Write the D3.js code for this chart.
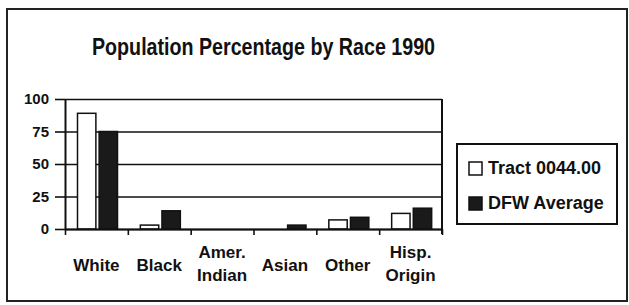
<!DOCTYPE html>
<html>
<head>
<meta charset="utf-8">
<script src="https://cdn.jsdelivr.net/npm/d3@7"></script>
<style>
  body { margin: 0; background: #fff; }
  svg { display: block; font-family: "Liberation Sans", Arial, sans-serif; }
  .axis path, .axis line { stroke: #111; }
  .grid line { stroke: #111; stroke-width: 1.6; }
  .grid path { display: none; }
</style>
</head>
<body>
<svg width="629" height="305"></svg>
<script>
var categories = [["White"], ["Black"], ["Amer.", "Indian"], ["Asian"], ["Other"], ["Hisp.", "Origin"]],
    series = ["Tract 0044.00", "DFW Average"],
    tract = [89, 3, 0, 0, 7, 12],
    dfw = [75, 14, 0, 3, 9, 16],
    yTicks = [0, 25, 50, 75, 100];

var svg = d3.select("svg"),
    margin = {top: 99, left: 65},
    width = 377,
    height = 130,
    g = svg.append("g").attr("transform", "translate(" + margin.left + "," + margin.top + ")");

var data = categories.map(function(c, i) {
  return {name: c.join(" "), lines: c, values: [tract[i], dfw[i]]};
});

// outer frame
svg.append("rect")
    .attr("x", 7).attr("y", 9)
    .attr("width", 620).attr("height", 292)
    .attr("fill", "none")
    .attr("stroke", "#222")
    .attr("stroke-width", 2);

svg.append("text")
    .attr("x", 263.5)
    .attr("y", 55)
    .attr("text-anchor", "middle")
    .style("font", "bold 24px 'Liberation Sans Narrow', 'Liberation Sans', sans-serif")
    .attr("textLength", 343)
    .attr("lengthAdjust", "spacingAndGlyphs")
    .attr("fill", "#111")
    .text("Population Percentage by Race 1990");

var x0 = d3.scaleBand().domain(data.map(function(d) { return d.name; })).range([0, width]),
    x1 = d3.scaleBand().domain(series).range([12.5, 52.5]).paddingInner(0.15),
    xb = d3.scaleLinear().domain([0, categories.length]).range([0, width]),
    y = d3.scaleLinear().domain([0, 100]).range([height, 0]),
    z = d3.scaleOrdinal().domain(series).range(["#fff", "#1a1a1a"]);

// grid lines
g.append("g")
    .attr("class", "grid")
    .call(d3.axisLeft(y).tickValues(yTicks).tickSize(-width).tickFormat(""));

// right border of plot
g.append("line")
    .attr("x1", width).attr("x2", width)
    .attr("y1", 0).attr("y2", height + 5)
    .attr("stroke", "#111").attr("stroke-width", 2);

// bars
var group = g.selectAll(".cat")
  .data(data)
  .enter().append("g")
    .attr("class", "cat")
    .attr("transform", function(d) { return "translate(" + x0(d.name) + ",0)"; });

group.selectAll("rect")
  .data(function(d) { return d.values.map(function(v, i) { return {key: series[i], value: v}; }); })
  .enter().append("rect")
    .filter(function(d) { return d.value > 0; })
    .attr("x", function(d) { return x1(d.key); })
    .attr("y", function(d) { return y(d.value); })
    .attr("width", x1.bandwidth())
    .attr("height", function(d) { return y(0) - y(d.value); })
    .attr("fill", function(d) { return z(d.key); })
    .attr("stroke", "#111")
    .attr("stroke-width", 1.5);

// y axis
var yAxis = g.append("g")
    .attr("class", "axis")
    .call(d3.axisLeft(y).tickValues(yTicks).tickSize(10).tickSizeOuter(0).tickPadding(6));
yAxis.select(".domain").attr("stroke-width", 2);
yAxis.selectAll("line").attr("stroke-width", 1.6);
yAxis.selectAll("text")
    .style("font", "bold 15px 'Liberation Sans', sans-serif")
    .attr("fill", "#111");

// x axis ticks at category boundaries
var xAxis = g.append("g")
    .attr("class", "axis")
    .attr("transform", "translate(0," + height + ")")
    .call(d3.axisBottom(xb).ticks(categories.length).tickSize(6).tickSizeOuter(0).tickFormat(""));
xAxis.select(".domain").attr("stroke-width", 2);
xAxis.selectAll("line").attr("stroke-width", 1.6);

// category labels
var label = g.selectAll(".xlabel")
  .data(data)
  .enter().append("text")
    .attr("class", "xlabel")
    .attr("text-anchor", "middle")
    .attr("transform", function(d) {
      var ty = d.lines.length > 1 ? height + 29 : height + 42;
      return "translate(" + (x0(d.name) + x0.bandwidth() / 2) + "," + ty + ")";
    })
    .style("font", "bold 17px 'Liberation Sans', sans-serif")
    .attr("fill", "#111");

label.selectAll("tspan")
  .data(function(d) { return d.lines; })
  .enter().append("tspan")
    .attr("x", 0)
    .attr("dy", function(d, i) { return i ? 23 : 0; })
    .text(function(d) { return d; });

// legend
var legend = svg.append("g").attr("transform", "translate(457,144)");

legend.append("rect")
    .attr("width", 160).attr("height", 80)
    .attr("fill", "#fff")
    .attr("stroke", "#111")
    .attr("stroke-width", 2);

var item = legend.selectAll(".item")
  .data(series)
  .enter().append("g")
    .attr("class", "item")
    .attr("transform", function(d, i) { return "translate(12," + (18 + i * 35) + ")"; });

item.append("rect")
    .attr("width", 13).attr("height", 13)
    .attr("fill", z)
    .attr("stroke", "#111")
    .attr("stroke-width", 1.5);

item.append("text")
    .attr("x", 19)
    .attr("y", 12)
    .style("font", "bold 18px 'Liberation Sans', sans-serif")
    .attr("fill", "#111")
    .text(function(d) { return d; });
</script>
</body>
</html>
